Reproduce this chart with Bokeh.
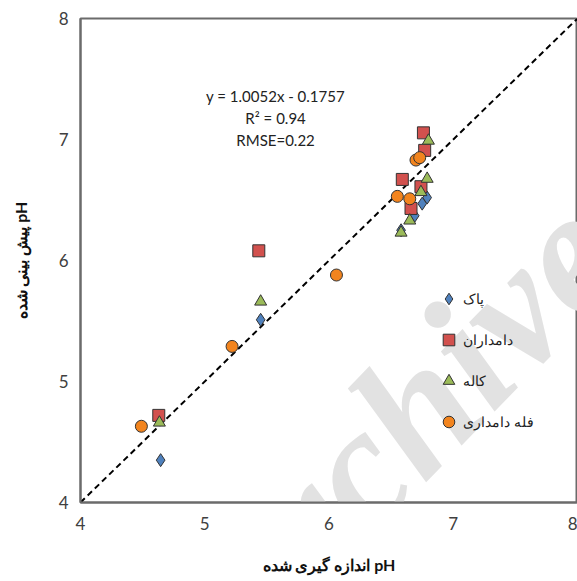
from bokeh.plotting import figure
from bokeh.models import Label, Legend, LegendItem
from bokeh.embed import file_html
from bokeh.resources import INLINE

# ---- data ----
pak_x = [4.645, 5.45, 6.79, 6.75, 6.69, 6.58]
pak_y = [4.35, 5.51, 6.52, 6.47, 6.37, 6.25]

damdaran_x = [4.63, 5.435, 6.59, 6.66, 6.74, 6.77, 6.76]
damdaran_y = [4.72, 6.08, 6.67, 6.43, 6.61, 6.91, 7.055]

kale_x = [4.635, 5.45, 6.58, 6.65, 6.74, 6.79, 6.80]
kale_y = [4.66, 5.66, 6.23, 6.33, 6.565, 6.675, 6.99]

fale_x = [4.49, 5.22, 6.06, 6.55, 6.65, 6.70, 6.73]
fale_y = [4.63, 5.29, 5.88, 6.53, 6.51, 6.83, 6.85]

line_x = [4, 8]
line_y = [4, 8]

series_names = ["پاک", "دامداران", "کاله", "فله دامداری"]
x_ticks = [4, 5, 6, 7, 8]
y_ticks = [4, 5, 6, 7, 8]
eq_lines = ["y = 1.0052x - 0.1757", "R² = 0.94", "RMSE=0.22"]
watermark_text = "Archive"

FONT = "Lato"

p = figure(width=577, height=581, x_range=(4, 8), y_range=(4, 8),
           output_backend="svg", toolbar_location=None,
           min_border_left=80, min_border_right=0, min_border_top=18,
           min_border_bottom=79)

p.xgrid.visible = False
p.ygrid.visible = False
p.outline_line_color = "#6b6b6b"
p.outline_line_width = 2
p.background_fill_color = "white"
p.border_fill_color = "white"

for ax in (p.xaxis[0], p.yaxis[0]):
    ax.axis_line_color = "#6b6b6b"
    ax.axis_line_width = 2
    ax.major_tick_line_color = None
    ax.minor_tick_line_color = None
    ax.major_tick_out = 0
    ax.major_tick_in = 0
    ax.minor_tick_out = 0
    ax.minor_tick_in = 0
    ax.major_label_text_font = FONT
    ax.major_label_text_font_size = "17px"
    ax.major_label_text_color = "#404040"
    ax.axis_label_text_font = FONT
    ax.axis_label_text_font_size = "16px"
    ax.axis_label_text_font_style = "bold"
    ax.axis_label_text_color = "#111111"

p.xaxis.ticker = x_ticks
p.yaxis.ticker = y_ticks
p.xaxis.major_label_standoff = 14
p.yaxis.major_label_standoff = 12
p.xaxis.axis_label = "اندازه گیری شده pH"
p.yaxis.axis_label = "پیش بینی شده pH"
p.xaxis.axis_label_standoff = 22
p.yaxis.axis_label_standoff = 26

# watermark (light, beneath the data)
wm = Label(x=6.53, y=4.60, text=watermark_text, angle=46, angle_units="deg",
           text_font="Liberation Serif", text_font_size="175px",
           text_font_style="bold italic", text_color="#e2e2e2",
           text_align="center", text_baseline="middle", level="underlay")
p.add_layout(wm)

# 1:1 line
p.line(line_x, line_y, line_color="black", line_width=2, line_dash="6 4")

edge = "#333333"
r1 = p.scatter(pak_x, pak_y, marker="diamond", size=13,
               fill_color="#4f81bd", line_color=edge, line_width=1)
r2 = p.scatter(damdaran_x, damdaran_y, marker="square", size=12,
               fill_color="#d2514e", line_color=edge, line_width=1)
r3 = p.scatter(kale_x, kale_y, marker="triangle", size=12,
               fill_color="#9bbb59", line_color=edge, line_width=1)
r4 = p.scatter(fale_x, fale_y, marker="circle", size=12,
               fill_color="#f2841e", line_color=edge, line_width=1)

legend = Legend(items=[LegendItem(label=series_names[0], renderers=[r1]),
                       LegendItem(label=series_names[1], renderers=[r2]),
                       LegendItem(label=series_names[2], renderers=[r3]),
                       LegendItem(label=series_names[3], renderers=[r4])],
                location=(354, 66), border_line_color=None,
                background_fill_alpha=0, padding=0, margin=0,
                spacing=12, glyph_width=29, glyph_height=29,
                label_standoff=0, label_text_font=FONT,
                label_text_font_size="14px", label_text_color="#222222")
p.add_layout(legend)

for i, t in enumerate(eq_lines):
    p.add_layout(Label(x=5.57, y=7.36 - i * 0.18, text=t, text_font=FONT,
                       text_font_size="15px", text_color="#222222",
                       text_align="center", text_baseline="middle"))

open("out.html", "w").write(file_html(p, INLINE))
